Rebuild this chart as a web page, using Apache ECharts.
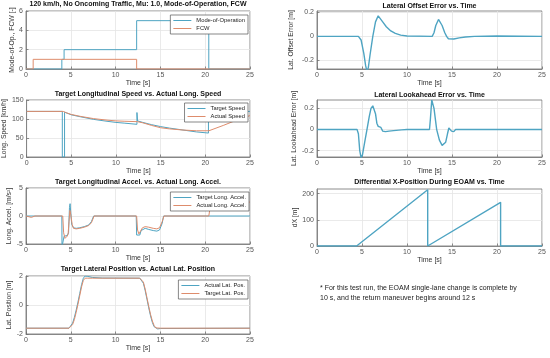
<!DOCTYPE html>
<html><head><meta charset="utf-8">
<script src="https://cdn.jsdelivr.net/npm/echarts@6/dist/echarts.min.js"></script>
<style>html,body{margin:0;padding:0;background:#fff}#c{width:550px;height:358px}</style>
</head><body><div id="c"></div>
<script>
// ---------- data ----------
const xTicks = [0, 5, 10, 15, 20, 25];

// Panel 1: Mode-of-Operation / FCW
const modeT = [0, 4.0, 4.0, 4.25, 4.25, 12.35, 12.35, 20.4, 20.4, 25];
const modeV = [0, 0, 1, 1, 2, 2, 5, 5, 0, 0];
const fcwT = [0, 0.8, 0.8, 12.35, 12.35, 25];
const fcwV = [0, 0, 1, 1, 0, 0];

// Panel 2: speeds
const tgtSpeedT = [0, 4.0, 4.0, 4.25, 4.25, 5, 6, 7.5, 9, 10, 11, 12.35, 12.35, 12.42, 12.42, 13, 14, 15, 16, 17.5, 19, 20.35, 20.35, 25];
const tgtSpeedV = [120, 120, 0, 0, 118, 111, 106, 99, 94, 91, 89, 86, 117, 117, 95, 91, 85, 80, 76, 71, 66, 63, 120, 120];
const actSpeedT = [0, 4.1, 4.5, 5, 6, 7.5, 9, 10, 11, 12.4, 13, 14, 15, 16, 17.5, 19, 20.4, 22, 23.5, 25];
const actSpeedV = [120, 120, 116, 112, 107, 101, 97, 95, 94, 93, 90, 83, 77, 74, 71, 69, 69, 83, 97, 109];

// Panel 3: accelerations
const tgtAccT = [0, 4.0, 4.02, 4.2, 4.25, 4.3, 4.6, 4.75, 4.85, 4.92, 5.0, 5.1, 5.3, 5.6, 6.0, 6.5, 7.0, 7.3, 7.55, 12.3, 12.35, 12.7, 12.85, 13.0, 13.3, 13.7, 14.2, 14.6, 14.9, 15.2, 15.35, 25];
const tgtAccV = [0, 0, -5.5, -5.5, -3.6, -3.6, -3.5, -3.0, 1.5, 2.2, 0.5, -1.5, -2.1, -2.2, -2.1, -1.9, -1.6, -1.0, 0, 0, -3.4, -3.4, -2.6, -2.3, -2.2, -2.4, -2.6, -2.7, -2.5, -1.3, 0, 0];
const actAccT = [0, 0.2, 0.6, 1.0, 4.1, 4.2, 4.35, 4.5, 4.6, 4.7, 4.8, 4.9, 5.0, 5.15, 5.3, 5.6, 6.0, 6.5, 7.0, 7.3, 7.6, 12.35, 12.45, 12.6, 12.8, 13.0, 13.3, 13.7, 14.2, 14.6, 14.9, 15.2, 15.4, 20.4, 20.5, 20.7, 21.5, 23, 25];
const actAccV = [0, -0.2, -0.25, 0, 0, -3.0, -4.0, -3.7, -3.6, -3.2, -1.0, 1.0, 0.2, -1.5, -2.2, -2.3, -2.2, -2.0, -1.7, -1.2, 0, 0, -2.5, -3.2, -3.0, -2.1, -1.9, -2.0, -2.2, -2.3, -2.1, -1.0, 0, 0, 1.0, 1.6, 1.9, 2.1, 2.5];

// Panel 4: lateral positions
const latT = [0, 4.8, 5.0, 5.2, 5.4, 5.6, 5.8, 6.0, 6.2, 6.4, 6.6, 6.9, 7.4, 8.5, 12.7, 12.9, 13.1, 13.3, 13.5, 13.7, 13.9, 14.1, 14.3, 14.5, 14.7, 15.0, 25];
const actLatV = [-1.6, -1.6, -1.5, -1.25, -0.85, -0.35, 0.2, 0.8, 1.4, 1.85, 2.0, 1.97, 1.9, 1.86, 1.85, 1.78, 1.5, 1.0, 0.4, -0.2, -0.75, -1.2, -1.5, -1.62, -1.65, -1.62, -1.6];
const tgtLatV = [-1.6, -1.6, -1.55, -1.35, -1.0, -0.5, 0.05, 0.65, 1.25, 1.7, 1.85, 1.85, 1.85, 1.85, 1.85, 1.8, 1.58, 1.1, 0.5, -0.1, -0.65, -1.1, -1.42, -1.58, -1.6, -1.6, -1.6];

// Right 1: lateral offset error
const offT = [0, 4.6, 4.9, 5.2, 5.4, 5.55, 5.7, 5.9, 6.2, 6.5, 6.8, 7.0, 7.3, 7.7, 8.2, 8.7, 9.3, 10, 12.8, 13.0, 13.2, 13.5, 13.7, 13.9, 14.2, 14.4, 14.6, 14.8, 15.2, 15.8, 16.5, 17.5, 20, 25];
const offV = [0, 0, -0.03, -0.14, -0.24, -0.29, -0.26, -0.15, 0, 0.12, 0.17, 0.16, 0.12, 0.08, 0.045, 0.025, 0.01, 0.003, 0, 0.03, 0.09, 0.14, 0.13, 0.09, 0.03, 0, -0.02, -0.03, -0.022, -0.012, -0.005, 0, 0.003, 0];

// Right 2: lateral lookahead error
const lookT = [0, 4.45, 4.6, 4.75, 4.9, 5.05, 5.3, 5.55, 5.8, 6.0, 6.2, 6.35, 6.5, 6.65, 6.8, 6.95, 7.1, 7.3, 7.6, 8.0, 8.5, 9.4, 10, 12.5, 12.6, 12.75, 12.85, 13.0, 13.3, 13.6, 13.9, 14.1, 14.3, 14.5, 14.65, 14.8, 14.95, 15.2, 15.4, 25];
const lookV = [0, 0, -0.04, -0.2, -0.27, -0.24, -0.12, 0, 0.12, 0.2, 0.225, 0.21, 0.15, 0.06, 0.03, 0.035, 0.02, -0.015, -0.02, -0.015, -0.01, -0.003, 0, 0, 0.1, 0.28, 0.29, 0.2, 0, -0.1, -0.15, -0.16, -0.12, -0.04, 0.015, 0.02, -0.015, -0.02, 0, 0];

// Right 3: differential X-position
const dxT = [0, 4.4, 12.3, 12.3, 12.45, 20.4, 20.4, 25];
const dxV = [0, 0, 215, 0, 0, 167, 0, 0];

// ---------- styling ----------
const TEAL = '#4ea4c2', ORANGE = '#de8c6c', AX = '#707070', FONT = 'Liberation Sans, Arial, sans-serif';
const zip = (t, v) => t.map((x, i) => [x, v[i]]);

const panels = [
  { g: {left: 26, top: 11, width: 224, height: 58}, title: '120 km/h, No Oncoming Traffic, Mu: 1.0, Mode-of-Operation, FCW', ty: 1,
    yName: 'Mode-of-Op., FCW [-]', gap: 9, yMin: 0, yMax: 6, yTicks: [0, 2, 4, 6],
    series: [['Mode-of-Operation', zip(modeT, modeV), TEAL], ['FCW', zip(fcwT, fcwV), ORANGE]], leg: {right: 302, top: 15}, lw: 1 },
  { g: {left: 26, top: 100, width: 224, height: 57}, title: 'Target Longitudinal Speed vs. Actual Long. Speed', ty: 91,
    yName: 'Long. Speed [km/h]', gap: 14, yMin: 0, yMax: 150, yTicks: [0, 50, 100, 150],
    series: [['Target Speed', zip(tgtSpeedT, tgtSpeedV), TEAL], ['Actual Speed', zip(actSpeedT, actSpeedV), ORANGE]], leg: {right: 302, top: 103}, lw: 1 },
  { g: {left: 26, top: 188, width: 224, height: 56}, title: 'Target Longitudinal Accel. vs. Actual Long. Accel.', ty: 179,
    yName: 'Long. Accel. [m/s²]', gap: 9, yMin: -5, yMax: 5, yTicks: [-5, 0, 5],
    series: [['Target Long. Accel.', zip(tgtAccT, tgtAccV), TEAL], ['Actual Long. Accel.', zip(actAccT, actAccV), ORANGE]], leg: {right: 301, top: 192}, lw: 1 },
  { g: {left: 26, top: 276, width: 224, height: 58}, title: 'Target Lateral Position vs. Actual Lat. Position', ty: 266,
    yName: 'Lat. Position [m]', gap: 10, yMin: -2, yMax: 2, yTicks: [-2, 0, 2],
    series: [['Actual Lat. Pos.', zip(latT, actLatV), TEAL], ['Target Lat. Pos.', zip(latT, tgtLatV), ORANGE]], leg: {right: 302, top: 280}, lw: 1 },
  { g: {left: 317, top: 11, width: 225, height: 58}, title: 'Lateral Offset Error vs. Time', ty: 3,
    yName: 'Lat. Offset Error [m]', gap: 22, yMin: -0.27, yMax: 0.21, yTicks: [-0.2, 0, 0.2],
    series: [['Lat. Offset Error', zip(offT, offV), TEAL]], lw: 1.4 },
  { g: {left: 317, top: 100, width: 225, height: 57}, title: 'Lateral Lookahead Error vs. Time', ty: 92,
    yName: 'Lat. Lookahead Error [m]', gap: 14, yMin: -0.26, yMax: 0.28, yTicks: [-0.2, 0, 0.2],
    series: [['Lat. Lookahead Error', zip(lookT, lookV), TEAL]], lw: 1.4 },
  { g: {left: 317, top: 189, width: 225, height: 57}, title: 'Differential X-Position During EOAM vs. Time', ty: 179,
    yName: 'dX [m]', gap: 12, yMin: 0, yMax: 218, yTicks: [0, 100, 200],
    series: [['dX', zip(dxT, dxV), TEAL]], lw: 1.4 }
];

const option = {
  animation: false,
  backgroundColor: '#fff',
  textStyle: {fontFamily: FONT},
  grid: [], xAxis: [], yAxis: [], series: [], title: [], legend: [],
  graphic: [{
    type: 'text', left: 320, top: 283,
    style: {text: '* For this test run, the EOAM single-lane change is complete by\n10 s, and the return maneuver begins around 12 s',
      font: '7px ' + FONT, fill: '#222', lineHeight: 10}
  }]
};

panels.forEach((p, i) => {
  option.grid.push(Object.assign({show: true, borderColor: AX, borderWidth: 0.8, backgroundColor: '#fff'}, p.g));
  option.title.push({
    text: p.title, left: p.g.left + p.g.width / 2, top: p.ty, textAlign: 'center', padding: 0,
    textStyle: {fontSize: 7, fontWeight: 'bold', color: '#111', fontFamily: FONT}
  });
  option.xAxis.push({
    type: 'value', gridIndex: i, min: 0, max: 25, interval: 5,
    name: 'Time [s]', nameLocation: 'middle', nameGap: 11,
    nameTextStyle: {fontSize: 7, color: '#333', fontFamily: FONT},
    axisLine: {show: true, onZero: false, lineStyle: {color: AX, width: 0.8}},
    axisTick: {show: true, inside: true, length: 2.5, lineStyle: {color: AX, width: 0.8}},
    axisLabel: {fontSize: 7, color: '#555', margin: 3, fontFamily: FONT},
    splitLine: {show: true, lineStyle: {color: '#e4e4e4', width: 0.8}}
  });
  option.yAxis.push({
    type: 'value', gridIndex: i, min: p.yMin, max: p.yMax,
    name: p.yName, nameLocation: 'middle', nameGap: p.gap, nameRotate: 90,
    nameTextStyle: {fontSize: 6.8, color: '#333', fontFamily: FONT},
    axisLine: {show: true, onZero: false, lineStyle: {color: AX, width: 0.8}},
    axisTick: {show: true, inside: true, length: 2.5, customValues: p.yTicks, lineStyle: {color: AX, width: 0.8}},
    axisLabel: {fontSize: 7, color: '#555', margin: 3, customValues: p.yTicks, fontFamily: FONT},
    splitLine: {show: true, lineStyle: {color: '#e4e4e4', width: 0.8}}
  });
  p.series.forEach(s => {
    option.series.push({
      type: 'line', name: s[0], xAxisIndex: i, yAxisIndex: i, data: s[1],
      symbol: 'none', clip: true, lineStyle: {color: s[2], width: p.lw}, itemStyle: {color: s[2]}
    });
  });
  if (p.leg) {
    option.legend.push({
      data: p.series.map(s => s[0]), orient: 'vertical', right: p.leg.right, top: p.leg.top,
      icon: 'rect', itemWidth: 18, itemHeight: 1,
      backgroundColor: '#fff', borderColor: '#555', borderWidth: 0.7, borderRadius: 0,
      padding: [2, 3, 2, 3], itemGap: 1, selectedMode: false,
      textStyle: {fontSize: 5.8, color: '#222', fontFamily: FONT, lineHeight: 7}
    });
  }
});

const chart = echarts.init(document.getElementById('c'), null, {renderer: 'canvas'});
chart.setOption(option);
</script>
</body></html>
